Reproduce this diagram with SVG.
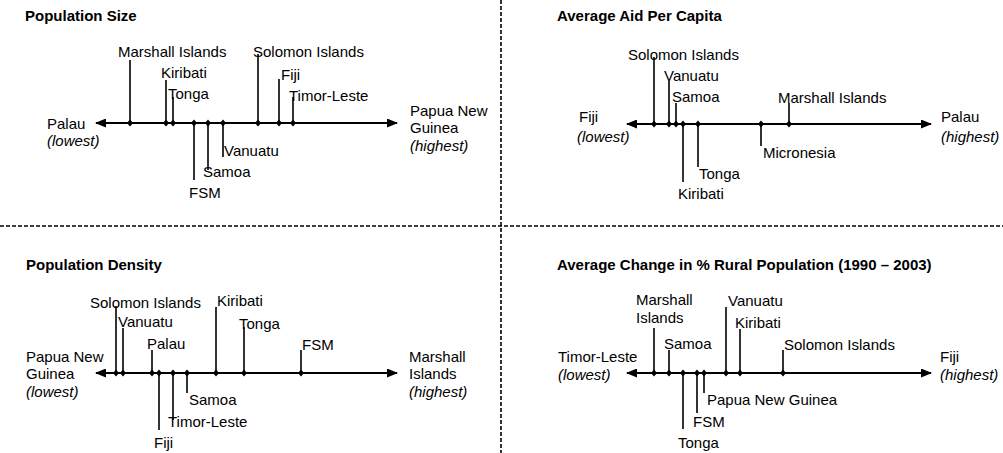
<svg xmlns="http://www.w3.org/2000/svg" width="1003" height="453" viewBox="0 0 1003 453">
<style>
text{font-family:"Liberation Sans",Arial,sans-serif;font-size:15px;fill:#000}
.t{font-weight:bold}
.i{font-style:italic}
.ax{stroke:#000;stroke-width:2;fill:none;marker-start:url(#ah);marker-end:url(#ah)}
.tk{stroke:#000;stroke-width:1.6}
.dv{stroke:#000;stroke-width:1.6;stroke-dasharray:4 2;fill:none}
</style>
<defs>
<marker id="ah" viewBox="0 0 11 9" refX="10" refY="4.5" markerWidth="11" markerHeight="9" markerUnits="userSpaceOnUse" orient="auto-start-reverse">
<path d="M0,0L11,4.5L0,9Z" fill="#000"/>
</marker>
<path id="dm" d="M0,-3.5L3,0L0,3.5L-3,0Z" fill="#000"/>
</defs>
<rect width="1003" height="453" fill="#fff"/>
<g id="dividers">
<path class="dv" d="M0,226H1003"/>
<path class="dv" d="M501,0V453"/>
</g>
<g id="connectors">
<path class="ax" d="M96,123H397"/>
<path class="ax" d="M627,124H931"/>
<path class="ax" d="M96,373H397"/>
<path class="ax" d="M627,373H931"/>
</g>
<g id="panel-size">
<text class="t" x="25" y="21">Population Size</text>
<g id="ps-ends"><text x="47" y="129">Palau</text><text class="i" x="47" y="146">(lowest)</text>
<text x="410" y="116">Papua New</text><text x="410" y="133">Guinea</text><text class="i" x="410" y="151">(highest)</text></g>
<g id="ps-marshall"><line class="tk" x1="130" y1="60" x2="130" y2="123"/><use href="#dm" x="130" y="123"/><text x="118" y="57">Marshall Islands</text></g>
<g id="ps-kiribati"><line class="tk" x1="166" y1="80" x2="166" y2="123"/><use href="#dm" x="166" y="123"/><text x="161" y="78">Kiribati</text></g>
<g id="ps-tonga"><line class="tk" x1="173" y1="97" x2="173" y2="123"/><use href="#dm" x="173" y="123"/><text x="168" y="99">Tonga</text></g>
<g id="ps-fsm"><line class="tk" x1="194" y1="123" x2="194" y2="180"/><use href="#dm" x="194" y="123"/><text x="189" y="198">FSM</text></g>
<g id="ps-samoa"><line class="tk" x1="208" y1="123" x2="208" y2="170"/><use href="#dm" x="208" y="123"/><text x="203" y="177">Samoa</text></g>
<g id="ps-vanuatu"><line class="tk" x1="223" y1="123" x2="223" y2="157"/><use href="#dm" x="223" y="123"/><text x="224" y="156">Vanuatu</text></g>
<g id="ps-solomon"><line class="tk" x1="258" y1="54" x2="258" y2="123"/><use href="#dm" x="258" y="123"/><text x="253" y="57">Solomon Islands</text></g>
<g id="ps-fiji"><line class="tk" x1="279" y1="79" x2="279" y2="123"/><use href="#dm" x="279" y="123"/><text x="281" y="80">Fiji</text></g>
<g id="ps-timor"><line class="tk" x1="293" y1="97" x2="293" y2="123"/><use href="#dm" x="293" y="123"/><text x="289" y="101">Timor-Leste</text></g>
</g>
<g id="panel-aid">
<text class="t" x="557" y="21">Average Aid Per Capita</text>
<g id="pa-ends"><text x="579" y="122">Fiji</text><text class="i" x="577" y="142">(lowest)</text>
<text x="941" y="122">Palau</text><text class="i" x="941" y="142">(highest)</text></g>
<g id="pa-solomon"><line class="tk" x1="654" y1="57" x2="654" y2="124"/><use href="#dm" x="654" y="124"/><text x="628" y="60">Solomon Islands</text></g>
<g id="pa-vanuatu"><line class="tk" x1="669" y1="81" x2="669" y2="124"/><use href="#dm" x="669" y="124"/><text x="664" y="81">Vanuatu</text></g>
<g id="pa-samoa"><line class="tk" x1="676" y1="103" x2="676" y2="124"/><use href="#dm" x="676" y="124"/><text x="672" y="102">Samoa</text></g>
<g id="pa-kiribati"><line class="tk" x1="683" y1="124" x2="683" y2="182"/><use href="#dm" x="683" y="124"/><text x="678" y="199">Kiribati</text></g>
<g id="pa-tonga"><line class="tk" x1="698" y1="124" x2="698" y2="167"/><use href="#dm" x="698" y="124"/><text x="699" y="179">Tonga</text></g>
<g id="pa-micronesia"><line class="tk" x1="761" y1="124" x2="761" y2="146"/><use href="#dm" x="761" y="124"/><text x="763" y="158">Micronesia</text></g>
<g id="pa-marshall"><line class="tk" x1="789" y1="103" x2="789" y2="124"/><use href="#dm" x="789" y="124"/><text x="778" y="103">Marshall Islands</text></g>
</g>
<g id="panel-density">
<text class="t" x="26" y="270">Population Density</text>
<g id="pd-ends"><text x="26" y="362">Papua New</text><text x="26" y="379">Guinea</text><text class="i" x="26" y="397">(lowest)</text>
<text x="409" y="362">Marshall</text><text x="409" y="379">Islands</text><text class="i" x="409" y="397">(highest)</text></g>
<g id="pd-solomon"><line class="tk" x1="116" y1="306" x2="116" y2="373"/><use href="#dm" x="116" y="373"/><text x="90" y="308">Solomon Islands</text></g>
<g id="pd-vanuatu"><line class="tk" x1="123" y1="328" x2="123" y2="373"/><use href="#dm" x="123" y="373"/><text x="118" y="327">Vanuatu</text></g>
<g id="pd-palau"><line class="tk" x1="152" y1="350" x2="152" y2="373"/><use href="#dm" x="152" y="373"/><text x="147" y="349">Palau</text></g>
<g id="pd-fiji"><line class="tk" x1="159" y1="373" x2="159" y2="430"/><use href="#dm" x="159" y="373"/><text x="154" y="448">Fiji</text></g>
<g id="pd-timor"><line class="tk" x1="173" y1="373" x2="173" y2="420"/><use href="#dm" x="173" y="373"/><text x="168" y="427">Timor-Leste</text></g>
<g id="pd-samoa"><line class="tk" x1="187" y1="373" x2="187" y2="393"/><use href="#dm" x="187" y="373"/><text x="189" y="405">Samoa</text></g>
<g id="pd-kiribati"><line class="tk" x1="216" y1="307" x2="216" y2="373"/><use href="#dm" x="216" y="373"/><text x="217" y="306">Kiribati</text></g>
<g id="pd-tonga"><line class="tk" x1="244" y1="327" x2="244" y2="373"/><use href="#dm" x="244" y="373"/><text x="239" y="329">Tonga</text></g>
<g id="pd-fsm"><line class="tk" x1="301" y1="350" x2="301" y2="373"/><use href="#dm" x="301" y="373"/><text x="302" y="350">FSM</text></g>
</g>
<g id="panel-rural">
<text class="t" x="557" y="270">Average Change in % Rural Population (1990 – 2003)</text>
<g id="pr-ends"><text x="558" y="362">Timor-Leste</text><text class="i" x="558" y="380">(lowest)</text>
<text x="940" y="362">Fiji</text><text class="i" x="940" y="380">(highest)</text></g>
<g id="pr-marshall"><line class="tk" x1="654" y1="328" x2="654" y2="373"/><use href="#dm" x="654" y="373"/><text x="636" y="305">Marshall</text><text x="636" y="323">Islands</text></g>
<g id="pr-samoa"><line class="tk" x1="669" y1="350" x2="669" y2="373"/><use href="#dm" x="669" y="373"/><text x="664" y="349">Samoa</text></g>
<g id="pr-tonga"><line class="tk" x1="683" y1="373" x2="683" y2="429"/><use href="#dm" x="683" y="373"/><text x="678" y="448">Tonga</text></g>
<g id="pr-fsm"><line class="tk" x1="697" y1="373" x2="697" y2="413"/><use href="#dm" x="697" y="373"/><text x="693" y="427">FSM</text></g>
<g id="pr-png"><line class="tk" x1="704" y1="373" x2="704" y2="393"/><use href="#dm" x="704" y="373"/><text x="707" y="405">Papua New Guinea</text></g>
<g id="pr-vanuatu"><line class="tk" x1="726" y1="307" x2="726" y2="373"/><use href="#dm" x="726" y="373"/><text x="728" y="306">Vanuatu</text></g>
<g id="pr-kiribati"><line class="tk" x1="740" y1="329" x2="740" y2="373"/><use href="#dm" x="740" y="373"/><text x="735" y="328">Kiribati</text></g>
<g id="pr-solomon"><line class="tk" x1="783" y1="350" x2="783" y2="373"/><use href="#dm" x="783" y="373"/><text x="784" y="350">Solomon Islands</text></g>
</g>
</svg>
